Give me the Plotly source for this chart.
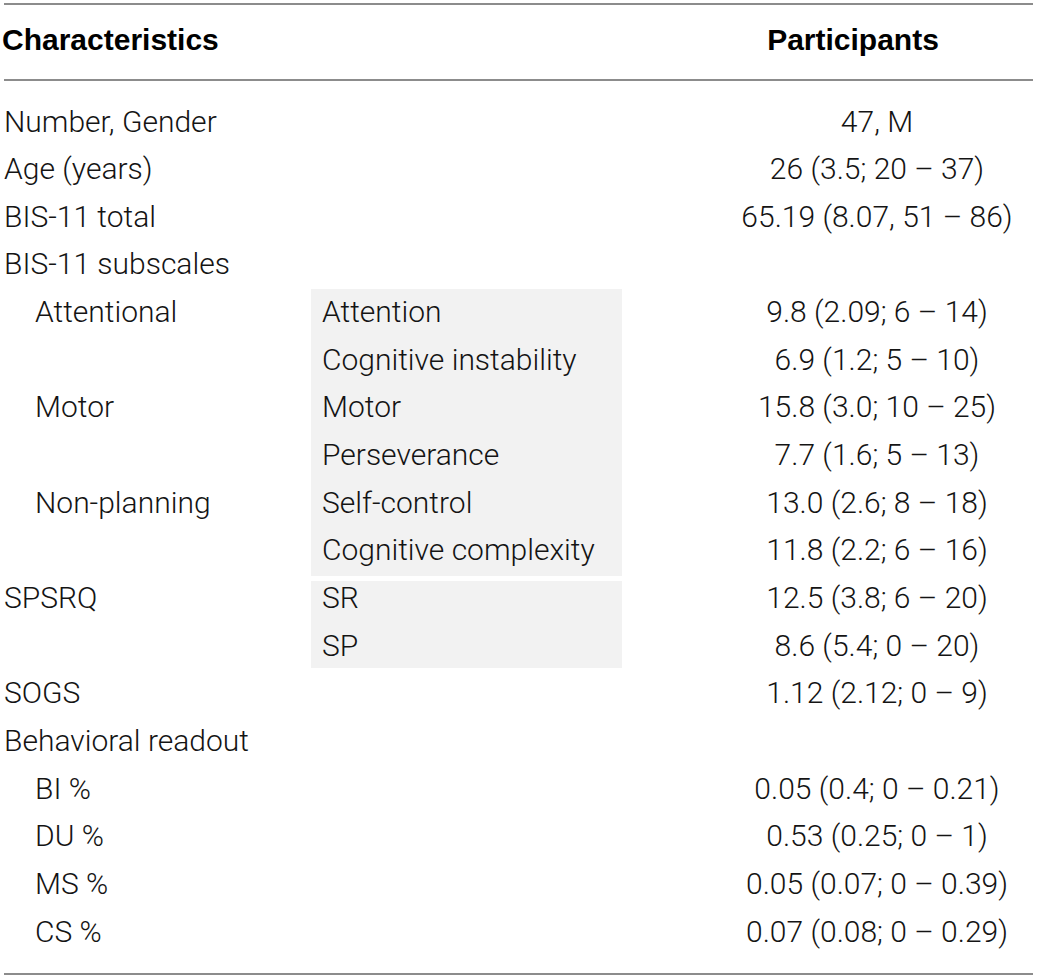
import plotly.graph_objects as go

# ---- data ----
header_left = "Characteristics"
header_right = "Participants"
row_labels = ["Number, Gender", "Age (years)", "BIS-11 total", "BIS-11 subscales",
              "Attentional", "", "Motor", "", "Non-planning", "",
              "SPSRQ", "", "SOGS", "Behavioral readout",
              "BI %", "DU %", "MS %", "CS %"]
row_indent = [0, 0, 0, 0, 1, 1, 1, 1, 1, 1, 0, 0, 0, 0, 1, 1, 1, 1]
sub_labels = ["", "", "", "", "Attention", "Cognitive instability", "Motor", "Perseverance",
              "Self-control", "Cognitive complexity", "SR", "SP", "", "", "", "", "", ""]
values = ["47, M", "26 (3.5; 20 \u2013 37)", "65.19 (8.07, 51 \u2013 86)", "",
          "9.8 (2.09; 6 \u2013 14)", "6.9 (1.2; 5 \u2013 10)", "15.8 (3.0; 10 \u2013 25)",
          "7.7 (1.6; 5 \u2013 13)", "13.0 (2.6; 8 \u2013 18)", "11.8 (2.2; 6 \u2013 16)",
          "12.5 (3.8; 6 \u2013 20)", "8.6 (5.4; 0 \u2013 20)", "1.12 (2.12; 0 \u2013 9)", "",
          "0.05 (0.4; 0 \u2013 0.21)", "0.53 (0.25; 0 \u2013 1)", "0.05 (0.07; 0 \u2013 0.39)",
          "0.07 (0.08; 0 \u2013 0.29)"]

W, H = 1039, 980
ROW0, STEP = 124, 47.65
FONT = "Roboto"
SIZE = 30
TXT = "#141414"

def r2px(i):
    return ROW0 + STEP * i

rows = list(range(len(row_labels)))
ys = [r2px(i) for i in rows]
fig = go.Figure()

tf = dict(family=FONT, size=SIZE, color=TXT, weight=300)
# column 1 labels
fig.add_trace(go.Scatter(
    x=[4 + 31 * ind for ind in row_indent], y=ys,
    text=row_labels, mode="text", textposition="middle right",
    textfont=tf, hoverinfo="skip", showlegend=False))
# column 2 labels
fig.add_trace(go.Scatter(
    x=[322] * len(rows), y=ys,
    text=sub_labels, mode="text", textposition="middle right",
    textfont=tf, hoverinfo="skip", showlegend=False))
# values
fig.add_trace(go.Scatter(
    x=[877] * len(rows), y=ys,
    text=values, mode="text", textposition="middle center",
    textfont=tf, hoverinfo="skip", showlegend=False))
# headers
hf = dict(family="Liberation Sans", size=SIZE, color="#000")
fig.add_trace(go.Scatter(
    x=[2], y=[42], text=[f"<b>{header_left}</b>"], mode="text", textposition="middle right",
    textfont=hf, hoverinfo="skip", showlegend=False))
fig.add_trace(go.Scatter(
    x=[853], y=[42], text=[f"<b>{header_right}</b>"], mode="text", textposition="middle center",
    textfont=hf, hoverinfo="skip", showlegend=False))

shapes = []
for yy in (4, 80, 974):
    shapes.append(dict(type="line", x0=4, x1=1033, y0=yy, y1=yy,
                       line=dict(color="#8c8c8c", width=2), layer="below"))
shapes.append(dict(type="rect", x0=311, x1=622, y0=289, y1=576,
                   fillcolor="#f2f2f2", line=dict(width=0), layer="below"))
shapes.append(dict(type="rect", x0=311, x1=622, y0=581, y1=668,
                   fillcolor="#f2f2f2", line=dict(width=0), layer="below"))

fig.update_layout(
    width=W, height=H, margin=dict(l=0, r=0, t=0, b=0),
    paper_bgcolor="white", plot_bgcolor="white",
    xaxis=dict(range=[0, W], visible=False, fixedrange=True),
    yaxis=dict(range=[H, 0], visible=False, fixedrange=True),
    shapes=shapes,
)
fig.write_html("out.html", config={"displayModeBar": False},
               post_script="document.body.style.margin='0';")
